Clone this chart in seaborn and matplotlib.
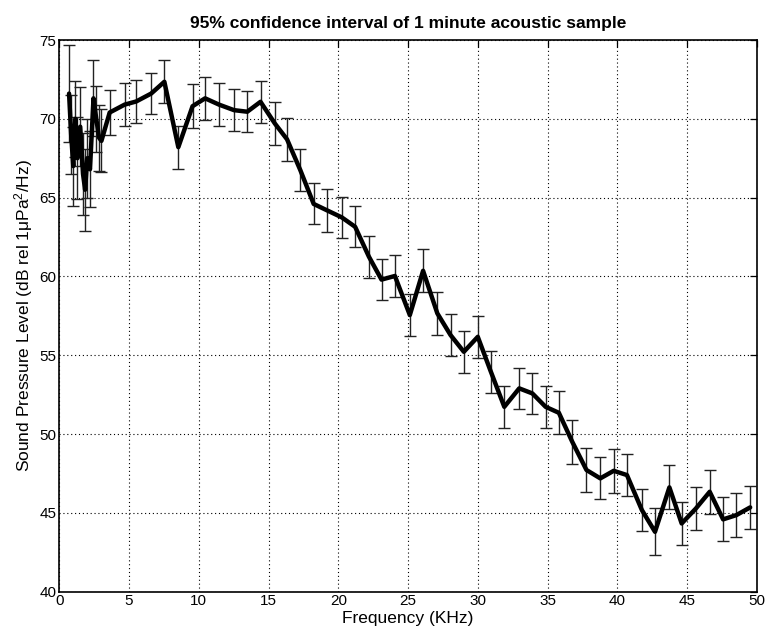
import matplotlib
matplotlib.use("Agg")
import matplotlib.pyplot as plt
import seaborn as sns
import pandas as pd

# Frequency bins (kHz), mean spectral level (dB) and 95% CI half-width (dB)
freq_khz = [0.70, 0.85, 1.00, 1.15, 1.30, 1.50, 1.70, 1.85, 2.00, 2.20, 2.45, 2.65, 2.85,
            3.02, 3.61, 4.68, 5.51, 6.58, 7.53, 8.53, 9.55, 10.45, 11.45, 12.52, 13.47,
            14.42, 15.45, 16.32, 17.27, 18.23, 19.17, 20.24, 21.20, 22.19, 23.09, 24.05,
            25.12, 26.07, 27.09, 28.04, 28.99, 29.99, 30.93, 31.89, 32.96, 33.90, 34.85,
            35.80, 36.76, 37.78, 38.77, 39.73, 40.68, 41.75, 42.69, 43.72, 44.60, 45.62,
            46.61, 47.57, 48.52, 49.51]
spl_db = [71.6, 69.0, 67.0, 70.0, 67.5, 69.5, 66.5, 65.5, 67.5, 66.8, 71.3, 70.0, 68.8,
          68.6, 70.4, 70.9, 71.1, 71.6, 72.35, 68.2, 70.8, 71.3, 70.9, 70.55, 70.45,
          71.08, 69.7, 68.7, 66.75, 64.6, 64.2, 63.75, 63.15, 61.25, 59.8, 60.03,
          57.55, 60.36, 57.66, 56.28, 55.22, 56.17, 53.95, 51.73, 52.9, 52.58, 51.73,
          51.35, 49.51, 47.72, 47.19, 47.67, 47.4, 45.18, 43.8, 46.62, 44.33, 45.28,
          46.34, 44.59, 44.86, 45.35]
ci_db = [3.1, 2.5, 2.5, 2.4, 2.6, 2.5, 2.6, 2.6, 2.5, 2.4, 2.4, 2.1, 2.1,
         2.0, 1.4, 1.38, 1.38, 1.32, 1.35, 1.37, 1.4, 1.35, 1.35, 1.35, 1.3,
         1.35, 1.37, 1.35, 1.32, 1.3, 1.35, 1.31, 1.31, 1.34, 1.3, 1.32,
         1.35, 1.36, 1.38, 1.35, 1.35, 1.33, 1.34, 1.34, 1.29, 1.3, 1.35,
         1.36, 1.38, 1.38, 1.34, 1.38, 1.35, 1.36, 1.48, 1.4, 1.34, 1.38,
         1.41, 1.4, 1.38, 1.38]

x_ticks = [0, 5, 10, 15, 20, 25, 30, 35, 40, 45, 50]
y_ticks = [40, 45, 50, 55, 60, 65, 70, 75]

df = pd.DataFrame({"freq": freq_khz, "spl": spl_db, "ci": ci_db})

sns.set_theme(style="white")
plt.rcParams["font.family"] = ["Liberation Sans", "DejaVu Sans"]
plt.rcParams["mathtext.fontset"] = "custom"
plt.rcParams["mathtext.rm"] = "Liberation Sans"
plt.rcParams["mathtext.it"] = "Liberation Sans"

fig = plt.figure(figsize=(7.68, 6.39), dpi=100)
ax = fig.add_axes([0.0772, 0.074, 0.9085, 0.8634])

# confidence interval bars
ax.errorbar(df["freq"], df["spl"], yerr=df["ci"], fmt="none", ecolor="#222222",
            elinewidth=1.0, capsize=4.5, capthick=1.0, zorder=2)
# mean spectrum
sns.lineplot(data=df, x="freq", y="spl", ax=ax, color="black", linewidth=3.2,
             sort=False, zorder=3)

ax.set_xlim(0, 50)
ax.set_ylim(40, 75)
ax.set_xticks(x_ticks)
ax.set_yticks(y_ticks)
ax.set_xticklabels([str(t) for t in x_ticks])
ax.set_yticklabels([str(t) for t in y_ticks])

ax.grid(True, color="black", linestyle=(0, (1, 2.5)), linewidth=0.8)
ax.set_axisbelow(True)
ax.tick_params(axis="both", direction="in", length=5, width=0.9, labelsize=11,
               colors="black", top=True, right=True, pad=2)
for s in ax.spines.values():
    s.set_color("black")
    s.set_linewidth(1.2)

ax.set_xlabel("Frequency (KHz)", fontsize=12.5, color="black", labelpad=2)
ax.set_ylabel("Sound Pressure Level (dB rel 1\u03bcPa$^2$/Hz)", fontsize=12.5,
              color="black", labelpad=3)
ax.set_title("95% confidence interval of 1 minute acoustic sample", fontsize=12.5,
             fontweight="bold", color="black", pad=9)

fig.savefig("out.png", dpi=100, facecolor="white")
